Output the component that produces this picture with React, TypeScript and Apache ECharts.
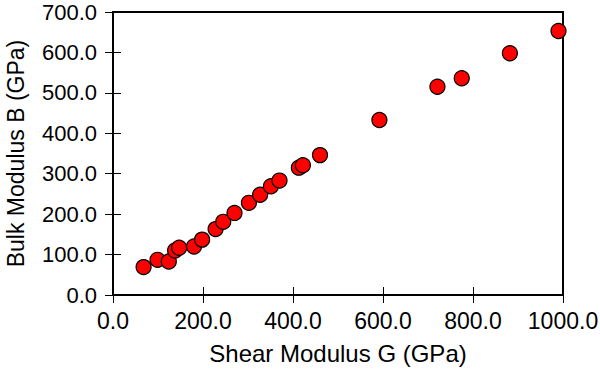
import React, { useEffect, useRef } from "react";
import * as echarts from "echarts";

const shearG = [68, 99, 124, 138, 147, 180, 198, 228, 245, 270, 302, 327, 351, 370, 413, 422, 460, 592, 721, 775, 882, 990];
const bulkB = [69, 87, 83, 110, 117, 120, 137, 163, 181, 203, 228, 248, 269, 283, 315, 321, 346, 433, 515, 536, 598, 653];
const xTicks = [0, 200, 400, 600, 800, 1000];
const yTicks = [0, 100, 200, 300, 400, 500, 600, 700];

export default function App() {
  const ref = useRef<HTMLDivElement>(null);
  useEffect(() => {
    if (!ref.current) return;
    const chart = echarts.init(ref.current, undefined, { renderer: "svg" });
    const font = "Liberation Sans";
    const fmt = (v: number) => v.toFixed(1);
    chart.setOption({
      animation: false,
      textStyle: { fontFamily: font },
      grid: { left: 113, right: 37, top: 12, bottom: 76, containLabel: false, outerBoundsMode: "none", show: true, borderColor: "#000", borderWidth: 2, backgroundColor: "transparent" },
      xAxis: [
        {
          type: "value", min: xTicks[0], max: xTicks[xTicks.length - 1], interval: 200, position: "bottom",
          name: "Shear Modulus G (GPa)", nameLocation: "middle", nameGap: 46,
          nameTextStyle: { fontSize: 24, color: "#000", fontFamily: font },
          axisLine: { show: false }, splitLine: { show: false },
          axisTick: { inside: true, length: 8, lineStyle: { color: "#000", width: 1 } },
          axisLabel: { fontSize: 23, color: "#000", margin: 14, fontFamily: font, formatter: fmt },
        },
        {
          type: "value", min: xTicks[0], max: xTicks[xTicks.length - 1], interval: 200, position: "top",
          axisLine: { show: false }, splitLine: { show: false }, axisLabel: { show: false },
          axisTick: { inside: true, length: 8, lineStyle: { color: "#000", width: 1 } },
        },
      ],
      yAxis: [
        {
          type: "value", min: yTicks[0], max: yTicks[yTicks.length - 1], interval: 100, position: "left",
          name: "Bulk Modulus B (GPa)", nameLocation: "middle", nameGap: 86,
          nameTextStyle: { fontSize: 23, color: "#000", fontFamily: font },
          axisLine: { show: false }, splitLine: { show: false },
          axisTick: { inside: true, length: 8, lineStyle: { color: "#000", width: 1 } },
          axisLabel: { fontSize: 22, color: "#000", margin: 16, fontFamily: font, formatter: fmt },
        },
        {
          type: "value", min: yTicks[0], max: yTicks[yTicks.length - 1], interval: 100, position: "right",
          axisLine: { show: false }, splitLine: { show: false }, axisLabel: { show: false },
          axisTick: { inside: true, length: 8, lineStyle: { color: "#000", width: 1 } },
        },
      ],
      series: [
        {
          type: "scatter",
          xAxisIndex: 0, yAxisIndex: 0,
          data: shearG.map((g, i) => [g, bulkB[i]]),
          symbol: "circle", symbolSize: 15,
          itemStyle: { color: "#ff0000", borderColor: "#000", borderWidth: 1.2, opacity: 1 },
          clip: false,
        },
      ],
    });
    return () => chart.dispose();
  }, []);
  return <div ref={ref} style={{ width: 600, height: 371, position: "absolute", left: 0, top: 0 }} />;
}
